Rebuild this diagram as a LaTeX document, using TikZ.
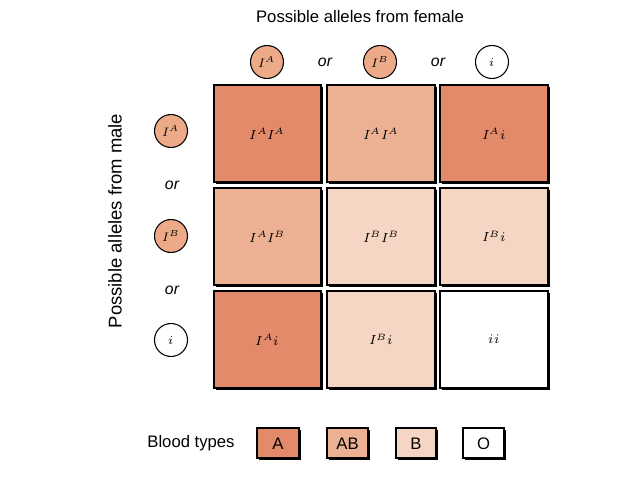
\documentclass[tikz,border=0pt]{standalone}
\usepackage{fontspec}
\setmainfont{Liberation Sans}
\usepackage{unicode-math}
\setmathfont{Latin Modern Math}
\begin{document}
\begin{tikzpicture}[x=0.02cm,y=-0.02cm,
  cellA/.style={fill=cA},
  cellAB/.style={fill=cAB},
  cellB/.style={fill=cB},
  cellO/.style={fill=white},
  allele/.style={circle,draw=black,line width=0.6pt,minimum size=33*0.02cm,inner sep=0pt,font=\fontsize{7}{8}\selectfont},
  ortext/.style={font=\itshape\fontsize{9}{10}\selectfont},
  lbl/.style={font=\fontsize{9.5}{11}\selectfont},
  geno/.style={font=\fontsize{7.5}{8}\selectfont}]
\definecolor{cA}{RGB}{226,138,106}
\definecolor{cAB}{RGB}{236,177,147}
\definecolor{cB}{RGB}{245,214,196}
\definecolor{cC}{RGB}{236,170,136}
\useasboundingbox[fill=white] (0,0) rectangle (640,480);
\newcommand{\cell}[6]{%
  \fill[black] (#1+2,#2+2) rectangle (#3+2,#4+2);
  \draw[#5,draw=black,line width=0.6pt] (#1,#2) rectangle (#3,#4);
  \node[geno] (#6) at ({(#1+#3)/2},{(#2+#4)/2}) {};}
% grid
\cell{214}{85}{321}{182}{cellA}{c11}
\cell{327}{85}{435}{182}{cellAB}{c12}
\cell{440}{85}{548}{182}{cellA}{c13}
\cell{214}{188}{321}{285}{cellAB}{c21}
\cell{327}{188}{435}{285}{cellB}{c22}
\cell{440}{188}{548}{285}{cellB}{c23}
\cell{214}{291}{321}{388}{cellA}{c31}
\cell{327}{291}{435}{388}{cellB}{c32}
\cell{440}{291}{548}{388}{cellO}{c33}
\node[geno] at (c11) {$I^AI^A$};
\node[geno] at (c12) {$I^AI^A$};
\node[geno] at (c13) {$I^Ai$};
\node[geno] at (c21) {$I^AI^B$};
\node[geno] at (c22) {$I^BI^B$};
\node[geno] at (c23) {$I^Bi$};
\node[geno] at (c31) {$I^Ai$};
\node[geno] at (c32) {$I^Bi$};
\node[geno] at (c33) {$ii$};
% titles
\node[lbl] (tf) at (360,17) {Possible alleles from female};
\node[font=\fontsize{10.5}{12}\selectfont,rotate=90] (tm) at (115,221) {Possible alleles from male};
% top alleles
\node[allele,fill=cC] (fA) at (267,62) {$I^A$};
\node[ortext] (fo1) at (325,62) {or};
\node[allele,fill=cC] (fB) at (380,62) {$I^B$};
\node[ortext] (fo2) at (438,62) {or};
\node[allele,fill=white] (fi) at (492,62) {$i$};
% left alleles
\node[allele,fill=cC] (mA) at (171,131) {$I^A$};
\node[ortext] (mo1) at (172,185) {or};
\node[allele,fill=cC] (mB) at (171,236) {$I^B$};
\node[ortext] (mo2) at (172,290) {or};
\node[allele,fill=white] (mi) at (171,340) {$i$};
% legend
\node[lbl] (bt) at (191,443) {Blood types};
\newcommand{\legbox}[4]{%
  \fill[black] (#1+1.5,428+1.5) rectangle (#2+1.5,458+1.5);
  \draw[fill=#3,line width=0.6pt] (#1,428) rectangle (#2,458);
  \node[lbl] (#4) at ({(#1+#2)/2},444) {#4};}
\legbox{257}{299}{cA}{A}
\legbox{327}{368}{cAB}{AB}
\legbox{396}{436}{cB}{B}
\legbox{463}{504}{white}{O}
\end{tikzpicture}
\end{document}
